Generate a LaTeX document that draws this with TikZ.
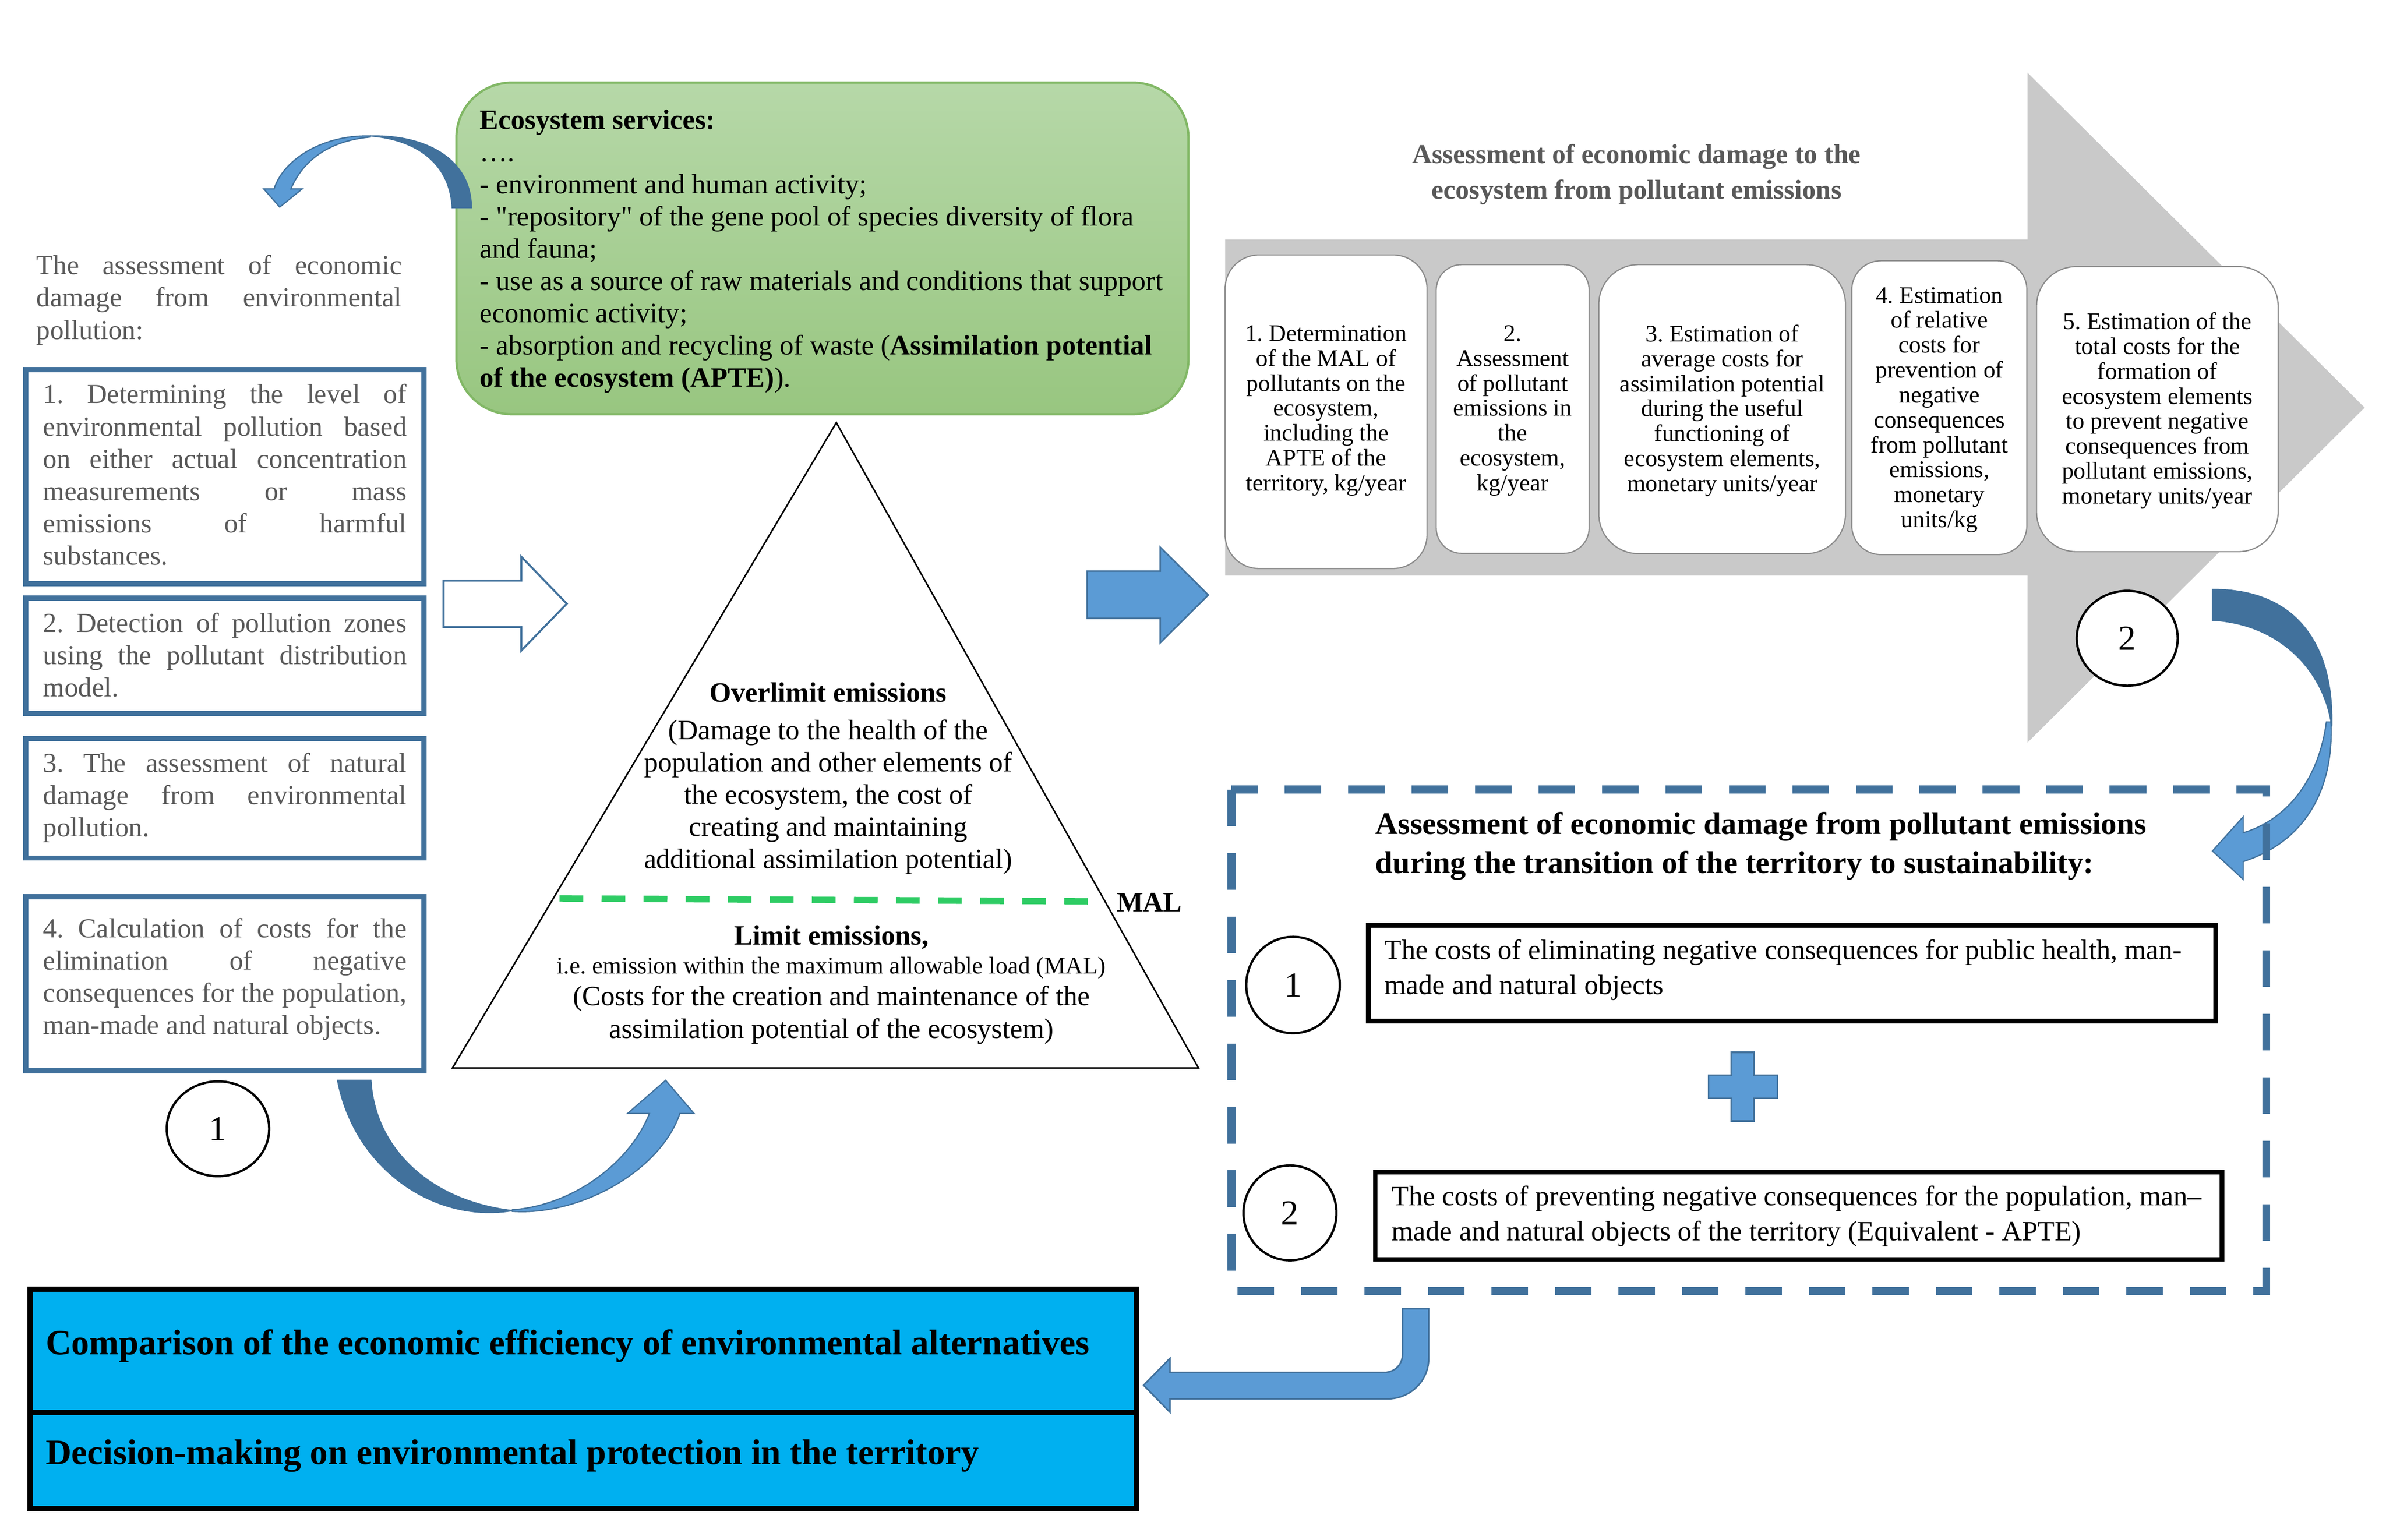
\documentclass[tikz,border=0pt]{standalone}
\usepackage{fontspec}
\setmainfont{Liberation Serif}
\newfontfamily\qfont{Liberation Serif}
\usetikzlibrary{shapes.geometric}
\definecolor{steel}{HTML}{41719C}
\definecolor{lblue}{HTML}{5B9BD5}
\definecolor{txtgray}{HTML}{595959}
\definecolor{arrgray}{HTML}{C9C9C9}
\definecolor{boxgray}{HTML}{8C8C8C}
\definecolor{gtop}{HTML}{B6D8A8}
\definecolor{gbot}{HTML}{98C680}
\definecolor{gborder}{HTML}{82B866}
\definecolor{malgreen}{HTML}{2ECC64}
\definecolor{cyanbox}{HTML}{00B0F0}
\newcommand{\rsp}{\frenchspacing\spaceskip=\fontdimen2\font\relax\xspaceskip=\fontdimen2\font\relax}
\newcommand{\jl}[2]{\makebox[#1][s]{\frenchspacing\spaceskip=0pt\xspaceskip=0pt\relax #2}}
\newcommand{\sq}{{\qfont"}}
\frenchspacing
\begin{document}
\begin{tikzpicture}[x=1pt,y=-1pt,
  lbox/.style={draw=steel,line width=3.4pt},
  ltext/.style={anchor=base west,inner sep=0pt,text width=237.7pt,align=left,text=txtgray,font={\fontsize{18}{21.1}\selectfont}},
  stepbox/.style={draw=boxgray,line width=0.8pt,fill=white},
  steptext/.style={inner sep=0pt,align=center,font={\fontsize{15.6}{16.3}\selectfont}},
  numc/.style={ellipse,draw,line width=1.5pt,fill=white,inner sep=0pt,font={\fontsize{23}{23}\selectfont}},
  blockarrow/.style={draw=steel,line width=1pt,fill=lblue},
  darkarrow/.style={draw=steel,line width=0.8pt,fill=steel}]
\useasboundingbox (0,0) rectangle (1560,1006.6);

% ---------- left column ----------
\node[ltext,text width=239pt] (lt) at (23.6,179.5) {\rsp\jl{239pt}{The assessment of economic}\\\jl{239pt}{damage from environmental}\\pollution:};

\path[lbox] (16.7,241.6) rectangle (277.3,381.7);
\node[ltext] (b1t) at (28,263.8) {\rsp\jl{237.7pt}{1. Determining the level of}\\\jl{237.7pt}{environmental pollution based}\\\jl{237.7pt}{on either actual concentration}\\\jl{237.7pt}{measurements or mass}\\\jl{237.7pt}{emissions of harmful}\\substances.};

\path[lbox] (16.7,391.1) rectangle (277.3,466.6);
\node[ltext] (b2t) at (28,413.3) {\rsp\jl{237.7pt}{2. Detection of pollution zones}\\\jl{237.7pt}{using the pollutant distribution}\\model.};

\path[lbox] (16.7,482.9) rectangle (277.3,561);
\node[ltext] (b3t) at (28,504.8) {\rsp\jl{237.7pt}{3. The assessment of natural}\\\jl{237.7pt}{damage from environmental}\\pollution.};

\path[lbox] (16.7,586.4) rectangle (277.3,700);
\node[ltext] (b4t) at (28,612.9) {\rsp\jl{237.7pt}{4. Calculation of costs for the}\\\jl{237.7pt}{elimination of negative}\\\jl{237.7pt}{consequences for the population,}\\man-made and natural objects.};

\node[numc,minimum width=67pt,minimum height=62pt] (c1) at (142.5,738) {1};

% ---------- green box ----------
\path[draw=gborder,line width=1.5pt,top color=gtop,bottom color=gbot,rounded corners=36pt] (298.4,54) rectangle (777,270.8);
\node[anchor=base west,inner sep=0pt,text width=460pt,align=left,font={\fontsize{18.3}{21.06}\selectfont}] (eco) at (313.5,84.5) {\rsp\textbf{Ecosystem services:}\\….\\- environment and human activity;\\- \sq repository\sq{} of the gene pool of species diversity of flora\\and fauna;\\- use as a source of raw materials and conditions that support\\economic activity;\\- absorption and recycling of waste (\textbf{Assimilation potential}\\\textbf{of the ecosystem (APTE)}).};

% top-left curved arrow
\path[darkarrow] (295.6,135.7) -- (308.2,135.7) .. controls (308,105) and (280,88) .. (242.1,88.9) .. controls (270,91) and (294,105) .. (295.6,135.7) -- cycle;
\path[blockarrow,line width=0.8pt] (242.1,88.9) .. controls (210,88) and (185,105) .. (179.2,123.5) -- (172.4,123.5) -- (182.9,135.4) -- (197.6,123.5) -- (190.2,123.5) .. controls (198,105) and (215,92) .. (242.1,89.6) -- cycle;

% ---------- triangle ----------
\draw[line width=1pt] (546.8,276.3) -- (295.8,698.3) -- (783.6,698.3) -- cycle;
\draw[malgreen,line width=4.2pt,dash pattern=on 15.5pt off 12pt] (365.8,587.4) -- (711.3,589.3);
\node[anchor=base,inner sep=0pt,font={\fontsize{18.3}{21.1}\selectfont\bfseries}] (over) at (541.5,459) {\rsp Overlimit emissions};
\node[anchor=base,inner sep=0pt,text width=300pt,align=center,font={\fontsize{18.3}{21.1}\selectfont}] (overt) at (541.5,483.4) {\rsp(Damage to the health of the\\population and other elements of\\the ecosystem, the cost of\\creating and maintaining\\additional assimilation potential)};
\node[anchor=base,inner sep=0pt,font={\fontsize{18.3}{21.1}\selectfont\bfseries}] (lim) at (543.6,617.6) {\rsp Limit emissions,};
\node[anchor=base,inner sep=0pt,font={\fontsize{15.7}{18}\selectfont}] (limie) at (543.5,636.5) {\rsp i.e. emission within the maximum allowable load (MAL)};
\node[anchor=base,inner sep=0pt,text width=420pt,align=center,font={\fontsize{18.3}{21.1}\selectfont}] (limt) at (543.6,657.5) {\rsp(Costs for the creation and maintenance of the\\assimilation potential of the ecosystem)};
\node[anchor=base,inner sep=0pt,font={\fontsize{18.3}{21.1}\selectfont\bfseries}] (mal) at (751.5,596) {MAL};

% hollow arrow
\draw[steel,line width=1.3pt,fill=white] (290,379.6) -- (340.8,379.6) -- (340.8,364) -- (370.6,394.7) -- (340.8,425.4) -- (340.8,410) -- (290,410) -- cycle;
% blue arrow
\path[blockarrow] (710.8,373.4) -- (758.5,373.4) -- (758.5,357.7) -- (790,389) -- (758.5,420.3) -- (758.5,404.3) -- (710.8,404.3) -- cycle;

% bottom U arrow
\path[darkarrow] (220.7,706.3) -- (242.5,706.3) .. controls (245,750) and (280,785) .. (335,791.5) .. controls (285,800) and (232,765) .. (220.7,706.3) -- cycle;
\path[blockarrow,line width=0.8pt] (335,792) .. controls (380,795) and (432,765) .. (444.5,728) -- (453.8,728) -- (435.2,706.3) -- (410.3,728) -- (424.6,728) .. controls (412,760) and (375,788) .. (335,791) -- cycle;

% ---------- big gray arrow ----------
\fill[arrgray] (801,156.6) -- (1325.6,156.6) -- (1325.6,47.5) -- (1546,266.5) -- (1325.6,485.5) -- (1325.6,376.3) -- (801,376.3) -- cycle;
\node[inner sep=0pt,text width=400pt,align=center,text=txtgray,font={\fontsize{17.8}{23.2}\selectfont\bfseries}] (gtitle) at (1070,114) {\rsp Assessment of economic damage to the\\ecosystem from pollutant emissions};

\path[stepbox,rounded corners=22pt] (801,166.7) rectangle (933,371.7);
\path[stepbox,rounded corners=16.7pt] (939,173) rectangle (1039,361.8);
\path[stepbox,rounded corners=26pt] (1045.3,173) rectangle (1206.6,362);
\path[stepbox,rounded corners=19pt] (1210.7,170.5) rectangle (1325.2,362.6);
\path[stepbox,rounded corners=26pt] (1331.5,174.3) rectangle (1489.5,360.7);

\node[steptext] (s1) at (867,268.5) {\rsp 1. Determination\\of the MAL of\\pollutants on the\\ecosystem,\\including the\\APTE of the\\territory, kg/year};
\node[steptext] (s2) at (989,268.5) {\rsp 2.\\Assessment\\of pollutant\\emissions in\\the\\ecosystem,\\kg/year};
\node[steptext] (s3) at (1126,268.5) {\rsp 3. Estimation of\\average costs for\\assimilation potential\\during the useful\\functioning of\\ecosystem elements,\\monetary units/year};
\node[steptext] (s4) at (1268,268) {\rsp 4. Estimation\\of relative\\costs for\\prevention of\\negative\\consequences\\from pollutant\\emissions,\\monetary\\units/kg};
\node[steptext] (s5) at (1410.5,268.5) {\rsp 5. Estimation of the\\total costs for the\\formation of\\ecosystem elements\\to prevent negative\\consequences from\\pollutant emissions,\\monetary units/year};

\node[numc,minimum width=66pt,minimum height=62pt] (c2) at (1390.8,417.3) {2};

% right curved arrow
\path[darkarrow] (1446.5,385.4) .. controls (1500,385) and (1526,420) .. (1524.5,475) .. controls (1520,440) and (1492,408) .. (1446.5,405.5) -- cycle;
\path[blockarrow,line width=0.8pt] (1524,472) .. controls (1526,515) and (1508,550) .. (1466.6,563.3) -- (1466.6,574.9) -- (1446.5,556.4) -- (1466.6,534) -- (1466.6,544.5) .. controls (1495,536) and (1516,510) .. (1521,472) -- cycle;

% ---------- dashed box ----------
\draw[steel,line width=5.3pt,dash pattern=on 24pt off 17.5pt] (805.1,516.2) rectangle (1481.7,844.2);
\node[anchor=base west,inner sep=0pt,text width=570pt,align=left,font={\fontsize{20.5}{25.4}\selectfont\bfseries}] (dtitle) at (899,545.5) {\rsp Assessment of economic damage from pollutant emissions\\during the transition of the territory to sustainability:};

\draw[line width=3pt] (894.6,605) rectangle (1448.5,667.5);
\node[anchor=base west,inner sep=0pt,text width=540pt,align=left,font={\fontsize{18.3}{22.7}\selectfont}] (i1) at (905,627.3) {\rsp The costs of eliminating negative consequences for public health, man-\\made and natural objects};
\node[numc,minimum width=61.2pt,minimum height=63pt] (d1) at (845.4,644) {1};

\path[blockarrow] (1132,688) -- (1146.8,688) -- (1146.8,703) -- (1162,703) -- (1162,718) -- (1146.8,718) -- (1146.8,733) -- (1132,733) -- (1132,718) -- (1117,718) -- (1117,703) -- (1132,703) -- cycle;

\draw[line width=3pt] (899.2,766.3) rectangle (1452.7,823.4);
\node[anchor=base west,inner sep=0pt,text width=540pt,align=left,font={\fontsize{18.3}{22.7}\selectfont}] (i2) at (909.7,788.3) {\rsp The costs of preventing negative consequences for the population, man–\\made and natural objects of the territory (Equivalent - APTE)};
\node[numc,minimum width=60.8pt,minimum height=62pt] (d2) at (843.4,793) {2};

% ---------- bottom ----------
\draw[line width=3.4pt,fill=cyanbox] (19.6,842.9) rectangle (743.3,923.4);
\draw[line width=3.4pt,fill=cyanbox] (19.6,923.4) rectangle (743.3,986.2);
\node[anchor=base west,inner sep=0pt,font={\fontsize{23.3}{26}\selectfont\bfseries}] (cmp) at (29.8,885.5) {\rsp Comparison of the economic efficiency of environmental alternatives};
\node[anchor=base west,inner sep=0pt,font={\fontsize{23.3}{26}\selectfont\bfseries}] (dec) at (29.8,957.2) {\rsp Decision-making on environmental protection in the territory};

% bent arrow
\path[blockarrow] (747.7,905.7) -- (765,888) -- (765,897.3) -- (905,897.3) .. controls (912,897.3) and (917,892) .. (917,885.3) -- (917,855.6) -- (934.1,855.6) -- (934.1,888) .. controls (934.1,903) and (922,914.6) .. (907,914.6) -- (765,914.6) -- (765,923.4) -- cycle;
\end{tikzpicture}
\end{document}
